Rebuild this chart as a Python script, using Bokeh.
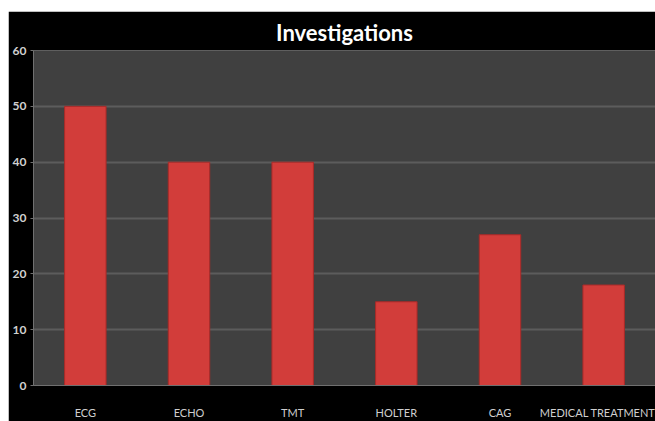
from bokeh.plotting import figure
from bokeh.models import ColumnDataSource, FactorRange, Range1d, FixedTicker
from bokeh.embed import file_html
from bokeh.resources import INLINE

categories = ["ECG", "ECHO", "TMT", "HOLTER", "CAG", "MEDICAL TREATMENT"]
values = [50, 40, 40, 15, 27, 18]
y_ticks = [0, 10, 20, 30, 40, 50, 60]

src = ColumnDataSource(dict(cat=categories, val=values))

p = figure(x_range=FactorRange(*categories, range_padding=0), y_range=Range1d(0, 60),
           width=647, height=410, output_backend="svg", toolbar_location=None,
           title="Investigations")
p.margin = (11, 0, 0, 8)
p.min_border_left = 25
p.min_border_right = 0
p.min_border_top = 37
p.min_border_bottom = 33

p.border_fill_color = "black"
p.background_fill_color = "#404040"
p.outline_line_color = None

p.title.text_color = "white"
p.title.text_font = "Lato"
p.title.text_font_style = "bold"
p.title.text_font_size = "22px"
p.title.align = "center"

p.vbar(x="cat", top="val", width=0.40, source=src, fill_color="#d23d3a", line_color="#a82a28", line_width=1)

p.xgrid.grid_line_color = None
p.ygrid.grid_line_color = "#5c5c5c"
p.ygrid.grid_line_width = 2
p.yaxis.ticker = FixedTicker(ticks=y_ticks)
p.yaxis.axis_line_color = "#707070"
p.yaxis.major_tick_line_color = "#707070"
p.yaxis.major_tick_in = 0
p.yaxis.major_tick_out = 3
p.yaxis.minor_tick_line_color = None
p.yaxis.major_label_text_color = "#d0d0d0"
p.yaxis.major_label_text_font = "Lato"
p.yaxis.major_label_text_font_style = "bold"
p.yaxis.major_label_text_font_size = "12px"
p.yaxis.major_label_standoff = 4

p.xaxis.axis_line_color = "#707070"
p.xaxis.major_tick_line_color = None
p.xaxis.major_label_text_color = "#cfcfcf"
p.xaxis.major_label_text_font = "Lato"
p.xaxis.major_label_text_font_size = "11px"
p.xaxis.major_label_standoff = 14

open("out.html", "w").write(file_html(p, INLINE))
